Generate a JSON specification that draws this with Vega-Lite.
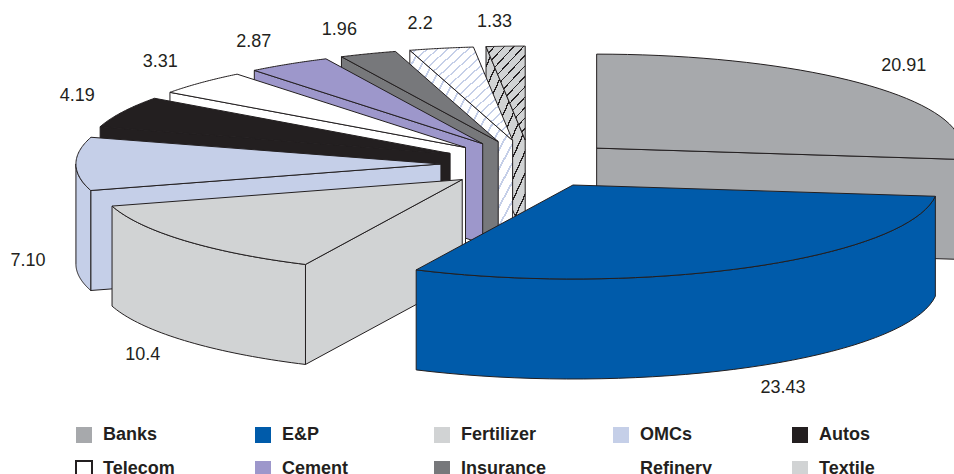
{
  "$schema": "https://vega.github.io/schema/vega-lite/v6.json",
  "width": 954,
  "height": 474,
  "padding": 0,
  "autosize": {"type": "none"},
  "background": "white",
  "view": {"stroke": null},
  "config": {"font": "Liberation Sans"},
  "params": [
    {"name": "hatchRefinery", "value": {"gradient": "linear", "x1": 0, "y1": 0, "x2": 1, "y2": 1, "stops": [
      {"offset": 0, "color": "#ffffff"}, {"offset": 0.04, "color": "#ffffff"}, {"offset": 0.04, "color": "#c5cfe8"}, {"offset": 0.05, "color": "#c5cfe8"},
      {"offset": 0.05, "color": "#ffffff"}, {"offset": 0.09, "color": "#ffffff"}, {"offset": 0.09, "color": "#c5cfe8"}, {"offset": 0.1, "color": "#c5cfe8"},
      {"offset": 0.1, "color": "#ffffff"}, {"offset": 0.14, "color": "#ffffff"}, {"offset": 0.14, "color": "#c5cfe8"}, {"offset": 0.15, "color": "#c5cfe8"},
      {"offset": 0.15, "color": "#ffffff"}, {"offset": 0.19, "color": "#ffffff"}, {"offset": 0.19, "color": "#c5cfe8"}, {"offset": 0.2, "color": "#c5cfe8"},
      {"offset": 0.2, "color": "#ffffff"}, {"offset": 0.24, "color": "#ffffff"}, {"offset": 0.24, "color": "#c5cfe8"}, {"offset": 0.25, "color": "#c5cfe8"},
      {"offset": 0.25, "color": "#ffffff"}, {"offset": 0.29, "color": "#ffffff"}, {"offset": 0.29, "color": "#c5cfe8"}, {"offset": 0.3, "color": "#c5cfe8"},
      {"offset": 0.3, "color": "#ffffff"}, {"offset": 0.34, "color": "#ffffff"}, {"offset": 0.34, "color": "#c5cfe8"}, {"offset": 0.35, "color": "#c5cfe8"},
      {"offset": 0.35, "color": "#ffffff"}, {"offset": 0.39, "color": "#ffffff"}, {"offset": 0.39, "color": "#c5cfe8"}, {"offset": 0.4, "color": "#c5cfe8"},
      {"offset": 0.4, "color": "#ffffff"}, {"offset": 0.44, "color": "#ffffff"}, {"offset": 0.44, "color": "#c5cfe8"}, {"offset": 0.45, "color": "#c5cfe8"},
      {"offset": 0.45, "color": "#ffffff"}, {"offset": 0.49, "color": "#ffffff"}, {"offset": 0.49, "color": "#c5cfe8"}, {"offset": 0.5, "color": "#c5cfe8"},
      {"offset": 0.5, "color": "#ffffff"}, {"offset": 0.54, "color": "#ffffff"}, {"offset": 0.54, "color": "#c5cfe8"}, {"offset": 0.55, "color": "#c5cfe8"},
      {"offset": 0.55, "color": "#ffffff"}, {"offset": 0.59, "color": "#ffffff"}, {"offset": 0.59, "color": "#c5cfe8"}, {"offset": 0.6, "color": "#c5cfe8"},
      {"offset": 0.6, "color": "#ffffff"}, {"offset": 0.64, "color": "#ffffff"}, {"offset": 0.64, "color": "#c5cfe8"}, {"offset": 0.65, "color": "#c5cfe8"},
      {"offset": 0.65, "color": "#ffffff"}, {"offset": 0.69, "color": "#ffffff"}, {"offset": 0.69, "color": "#c5cfe8"}, {"offset": 0.7, "color": "#c5cfe8"},
      {"offset": 0.7, "color": "#ffffff"}, {"offset": 0.74, "color": "#ffffff"}, {"offset": 0.74, "color": "#c5cfe8"}, {"offset": 0.75, "color": "#c5cfe8"},
      {"offset": 0.75, "color": "#ffffff"}, {"offset": 0.79, "color": "#ffffff"}, {"offset": 0.79, "color": "#c5cfe8"}, {"offset": 0.8, "color": "#c5cfe8"},
      {"offset": 0.8, "color": "#ffffff"}, {"offset": 0.84, "color": "#ffffff"}, {"offset": 0.84, "color": "#c5cfe8"}, {"offset": 0.85, "color": "#c5cfe8"},
      {"offset": 0.85, "color": "#ffffff"}, {"offset": 0.89, "color": "#ffffff"}, {"offset": 0.89, "color": "#c5cfe8"}, {"offset": 0.9, "color": "#c5cfe8"},
      {"offset": 0.9, "color": "#ffffff"}, {"offset": 0.94, "color": "#ffffff"}, {"offset": 0.94, "color": "#c5cfe8"}, {"offset": 0.95, "color": "#c5cfe8"},
      {"offset": 0.95, "color": "#ffffff"}, {"offset": 0.99, "color": "#ffffff"}, {"offset": 0.99, "color": "#c5cfe8"}, {"offset": 1, "color": "#c5cfe8"}
    ]}},
    {"name": "hatchTextile", "value": {"gradient": "linear", "x1": 0, "y1": 0, "x2": 0.54, "y2": 1.2, "stops": [
      {"offset": 0, "color": "#d1d3d4"}, {"offset": 0.0654, "color": "#d1d3d4"}, {"offset": 0.0654, "color": "#231f20"}, {"offset": 0.0769, "color": "#231f20"},
      {"offset": 0.0769, "color": "#d1d3d4"}, {"offset": 0.1423, "color": "#d1d3d4"}, {"offset": 0.1423, "color": "#231f20"}, {"offset": 0.1538, "color": "#231f20"},
      {"offset": 0.1538, "color": "#d1d3d4"}, {"offset": 0.2192, "color": "#d1d3d4"}, {"offset": 0.2192, "color": "#231f20"}, {"offset": 0.2308, "color": "#231f20"},
      {"offset": 0.2308, "color": "#d1d3d4"}, {"offset": 0.2962, "color": "#d1d3d4"}, {"offset": 0.2962, "color": "#231f20"}, {"offset": 0.3077, "color": "#231f20"},
      {"offset": 0.3077, "color": "#d1d3d4"}, {"offset": 0.3731, "color": "#d1d3d4"}, {"offset": 0.3731, "color": "#231f20"}, {"offset": 0.3846, "color": "#231f20"},
      {"offset": 0.3846, "color": "#d1d3d4"}, {"offset": 0.45, "color": "#d1d3d4"}, {"offset": 0.45, "color": "#231f20"}, {"offset": 0.4615, "color": "#231f20"},
      {"offset": 0.4615, "color": "#d1d3d4"}, {"offset": 0.5269, "color": "#d1d3d4"}, {"offset": 0.5269, "color": "#231f20"}, {"offset": 0.5385, "color": "#231f20"},
      {"offset": 0.5385, "color": "#d1d3d4"}, {"offset": 0.6038, "color": "#d1d3d4"}, {"offset": 0.6038, "color": "#231f20"}, {"offset": 0.6154, "color": "#231f20"},
      {"offset": 0.6154, "color": "#d1d3d4"}, {"offset": 0.6808, "color": "#d1d3d4"}, {"offset": 0.6808, "color": "#231f20"}, {"offset": 0.6923, "color": "#231f20"},
      {"offset": 0.6923, "color": "#d1d3d4"}, {"offset": 0.7577, "color": "#d1d3d4"}, {"offset": 0.7577, "color": "#231f20"}, {"offset": 0.7692, "color": "#231f20"},
      {"offset": 0.7692, "color": "#d1d3d4"}, {"offset": 0.8346, "color": "#d1d3d4"}, {"offset": 0.8346, "color": "#231f20"}, {"offset": 0.8462, "color": "#231f20"},
      {"offset": 0.8462, "color": "#d1d3d4"}, {"offset": 0.9115, "color": "#d1d3d4"}, {"offset": 0.9115, "color": "#231f20"}, {"offset": 0.9231, "color": "#231f20"},
      {"offset": 0.9231, "color": "#d1d3d4"}, {"offset": 0.9885, "color": "#d1d3d4"}, {"offset": 0.9885, "color": "#231f20"}, {"offset": 1, "color": "#231f20"}
    ]}}
  ],
  "data": {
    "values": [
      {"sector": "Banks", "value": 20.91, "label": "20.91", "slice": 1},
      {"sector": "Textile", "value": 1.33, "label": "1.33", "slice": 10},
      {"sector": "Refinery", "value": 2.2, "label": "2.2", "slice": 9},
      {"sector": "Insurance", "value": 1.96, "label": "1.96", "slice": 8},
      {"sector": "Cement", "value": 2.87, "label": "2.87", "slice": 7},
      {"sector": "Telecom", "value": 3.31, "label": "3.31", "slice": 6},
      {"sector": "Autos", "value": 4.19, "label": "4.19", "slice": 5},
      {"sector": "OMCs", "value": 7.1, "label": "7.10", "slice": 4},
      {"sector": "Fertilizer", "value": 10.4, "label": "10.4", "slice": 3},
      {"sector": "E&P", "value": 23.43, "label": "23.43", "slice": 2}
    ]
  },
  "transform": [
    {"joinaggregate": [{"op": "sum", "field": "value", "as": "total"}]},
    {"window": [{"op": "sum", "field": "value", "as": "running"}], "sort": [{"field": "slice", "order": "ascending"}], "frame": [null, 0]},
    {"calculate": "datum.running / datum.total * 360", "as": "a1"},
    {"calculate": "datum.a1 - datum.value / datum.total * 360", "as": "a0"},
    {"calculate": "(datum.a0 + datum.a1) / 2 * PI / 180", "as": "mid"}
  ],
  "layer": [
    {
      "transform": [
        {"calculate": "['start','end','wall','top']", "as": "part"},
        {"flatten": ["part"]},
        {"calculate": "[0,1,2,3,4,5,6,7,8,9,10,11,12,13,14,15,16,17,18,19,20,21,22,23,24,25,26,27,28,29,30,31,32,33,34,35,36,37,38,39,40,41,42,43,44,45,46,47,48,49,50,51,52,53,54,55,56,57,58,59,60,61,62,63,64,65,66,67,68,69,70,71,72,73,74,75,76,77,78,79,80,81]", "as": "k"},
        {"flatten": ["k"]},
        {"filter": "(datum.part === 'start' && datum.a0 >= 180 && datum.k <= 3) || (datum.part === 'end' && datum.a1 < 180 && datum.k <= 3) || (datum.part === 'wall' && datum.a1 > 90 && datum.a0 < 270) || (datum.part === 'top' && datum.k <= 41)"},
        {"calculate": "datum.sector + ' ' + datum.part", "as": "face"},
        {"calculate": "datum.part === 'top' ? (datum.k <= 40 ? 1 : 0) : datum.part === 'wall' ? 1 : (datum.k === 1 || datum.k === 2 ? 1 : 0)", "as": "rim"},
        {"calculate": "datum.part === 'wall' ? (datum.k > 40 ? 1 : 0) : datum.part === 'top' ? 0 : (datum.k >= 2 ? 1 : 0)", "as": "lower"},
        {"calculate": "datum.part === 'start' ? datum.a0 : datum.part === 'end' ? datum.a1 : datum.part === 'top' ? datum.a0 + (datum.a1 - datum.a0) * min(datum.k, 40) / 40 : max(datum.a0, 90) + (min(datum.a1, 270) - max(datum.a0, 90)) * (datum.k <= 40 ? datum.k : 81 - datum.k) / 40", "as": "deg"},
        {"calculate": "0.244 * sin(datum.mid) + datum.rim * sin(datum.deg * PI / 180)", "as": "px"},
        {"calculate": "0.255 * cos(datum.mid) + datum.rim * cos(datum.deg * PI / 180) - 1.064 * datum.lower", "as": "py"}
      ],
      "mark": {"type": "line", "interpolate": "linear-closed", "stroke": "#231f20", "strokeWidth": 1, "strokeJoin": "round", "clip": true},
      "encoding": {
        "x": {"field": "px", "type": "quantitative", "axis": null, "scale": {"domain": [-1.452, 1.1616], "nice": false, "zero": false}},
        "y": {"field": "py", "type": "quantitative", "axis": null, "scale": {"domain": [-3.298, 1.745], "nice": false, "zero": false}},
        "detail": {"field": "face"},
        "order": {"field": "k", "type": "quantitative"},
        "fill": {
          "condition": [
            {"test": "datum.sector === 'Refinery'", "value": {"expr": "hatchRefinery"}},
            {"test": "datum.sector === 'Textile'", "value": {"expr": "hatchTextile"}}
          ],
          "field": "sector",
          "type": "nominal",
          "title": null,
          "scale": {
            "domain": ["Banks", "E&P", "Fertilizer", "OMCs", "Autos", "Telecom", "Cement", "Insurance", "Refinery", "Textile"],
            "range": ["#a7a9ac", "#005baa", "#d1d3d4", "#c5cfe8", "#231f20", "#ffffff", "#9d97cb", "#77787b", "#ffffff", "#d1d3d4"]
          },
          "legend": {
            "orient": "none",
            "legendX": 75,
            "legendY": 426,
            "direction": "horizontal",
            "columns": 5,
            "gridAlign": "all",
            "columnPadding": 62,
            "rowPadding": 10,
            "padding": 0,
            "symbolType": "square",
            "symbolSize": 256,
            "labelOffset": 10,
            "labelFont": "Liberation Sans",
            "labelFontSize": 18,
            "labelFontWeight": "bold",
            "labelColor": "#231f20",
            "labelLimit": 200,
            "encoding": {
              "symbols": {
                "fill": {"value": {"expr": "datum.value === 'Refinery' ? hatchRefinery : datum.value === 'Textile' ? hatchTextile : scale('fill', datum.value)"}},
                "stroke": {"value": {"expr": "datum.value === 'Telecom' ? '#231f20' : 'transparent'"}},
                "strokeWidth": {"value": 2}
              }
            }
          }
        }
      }
    },
    {
      "transform": [
        {"calculate": "sin(datum.mid)", "as": "s"},
        {"calculate": "cos(datum.mid)", "as": "c"},
        {"calculate": "1.244 * datum.s + (datum.s < 0 ? -0.1315 * sqrt(abs(datum.s)) : 0.093)", "as": "lx"},
        {"calculate": "datum.c >= 0.05 ? 1.255 * datum.c + 0.26 * sqrt(datum.c) : 1.54 * datum.c - 1.032", "as": "ly"}
      ],
      "mark": {"type": "text", "font": "Liberation Sans", "fontSize": 18, "color": "#231f20", "align": "center", "baseline": "middle"},
      "encoding": {
        "x": {"field": "lx", "type": "quantitative"},
        "y": {"field": "ly", "type": "quantitative"},
        "text": {"field": "label", "type": "nominal"}
      }
    }
  ]
}
